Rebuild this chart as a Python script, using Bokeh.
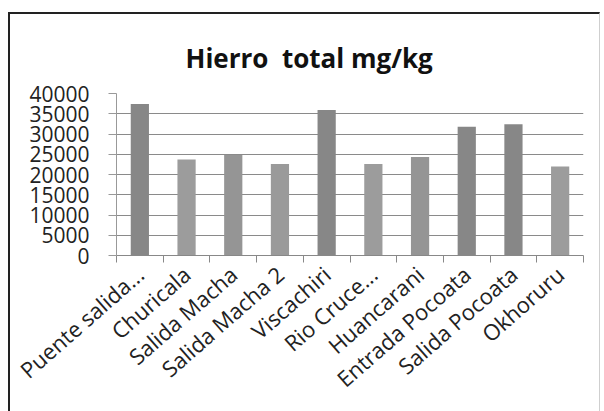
from bokeh.plotting import figure
from bokeh.models import Range1d, FixedTicker, ColumnDataSource
from bokeh.embed import file_html
from bokeh.resources import INLINE

title_text = "Hierro\u00a0 total mg/kg"
sites = ["Puente salida...", "Churicala", "Salida Macha", "Salida Macha 2", "Viscachiri",
         "Rio Cruce...", "Huancarani", "Entrada Pocoata", "Salida Pocoata", "Okhoruru"]
hierro = [37400, 23700, 24800, 22600, 35900, 22600, 24300, 31800, 32400, 22000]
bar_colors = ["#878787", "#9c9c9c", "#959595", "#9a9a9a", "#878787",
              "#9c9c9c", "#959595", "#878787", "#878787", "#9c9c9c"]
y_ticks = [0, 5000, 10000, 15000, 20000, 25000, 30000, 35000, 40000]

centers = [i + 0.5 for i in range(len(sites))]
bounds = [float(i) for i in range(len(sites) + 1)]

src = ColumnDataSource(dict(x=centers, top=hierro, color=bar_colors))

p = figure(width=592, height=399, output_backend="svg", toolbar_location=None,
           x_range=Range1d(0, len(sites)), y_range=Range1d(0, 40000),
           min_border_left=106, min_border_right=19, min_border_top=79, min_border_bottom=158,
           title=title_text)
p.styles = {"border-top": "2px solid #222", "border-left": "2px solid #222",
            "border-right": "1px solid #cfcfcf", "box-sizing": "border-box",
            "margin-left": "8px", "margin-top": "12px"}

p.title.text_font = "Open Sans"
p.title.text_font_style = "bold"
p.title.text_font_size = "26px"
p.title.text_color = "#111111"
p.title.align = "left"
p.title.offset = 69
p.title.standoff = 36

p.vbar(x="x", top="top", width=0.39, fill_color="color", line_color=None, source=src)

p.outline_line_color = None
p.xgrid.grid_line_color = None
p.ygrid.grid_line_color = "#8a8a8a"
p.ygrid.grid_line_width = 1
p.yaxis.ticker = FixedTicker(ticks=y_ticks)
p.yaxis.axis_line_color = "#999999"
p.yaxis.major_tick_line_color = "#999999"
p.yaxis.major_tick_out = 8
p.yaxis.major_tick_in = 0
p.yaxis.minor_tick_line_color = None
p.yaxis.major_label_text_font = "Open Sans"
p.yaxis.major_label_text_font_size = "21px"
p.yaxis.major_label_text_color = "#222222"
p.yaxis.major_label_standoff = 19

p.xaxis.ticker = FixedTicker(ticks=centers, minor_ticks=bounds)
p.xaxis.major_label_overrides = {c: s for c, s in zip(centers, sites)}
p.xaxis.major_tick_line_color = None
p.xaxis.major_tick_out = 0
p.xaxis.major_tick_in = 0
p.xaxis.minor_tick_line_color = "#888888"
p.xaxis.minor_tick_out = 7
p.xaxis.minor_tick_in = 0
p.xaxis.axis_line_color = "#888888"
p.xaxis.major_label_orientation = 0.72
p.xaxis.major_label_text_font = "Open Sans"
p.xaxis.major_label_text_font_size = "22px"
p.xaxis.major_label_text_color = "#222222"
p.xaxis.major_label_standoff = 8

open("out.html", "w").write(file_html(p, INLINE))
